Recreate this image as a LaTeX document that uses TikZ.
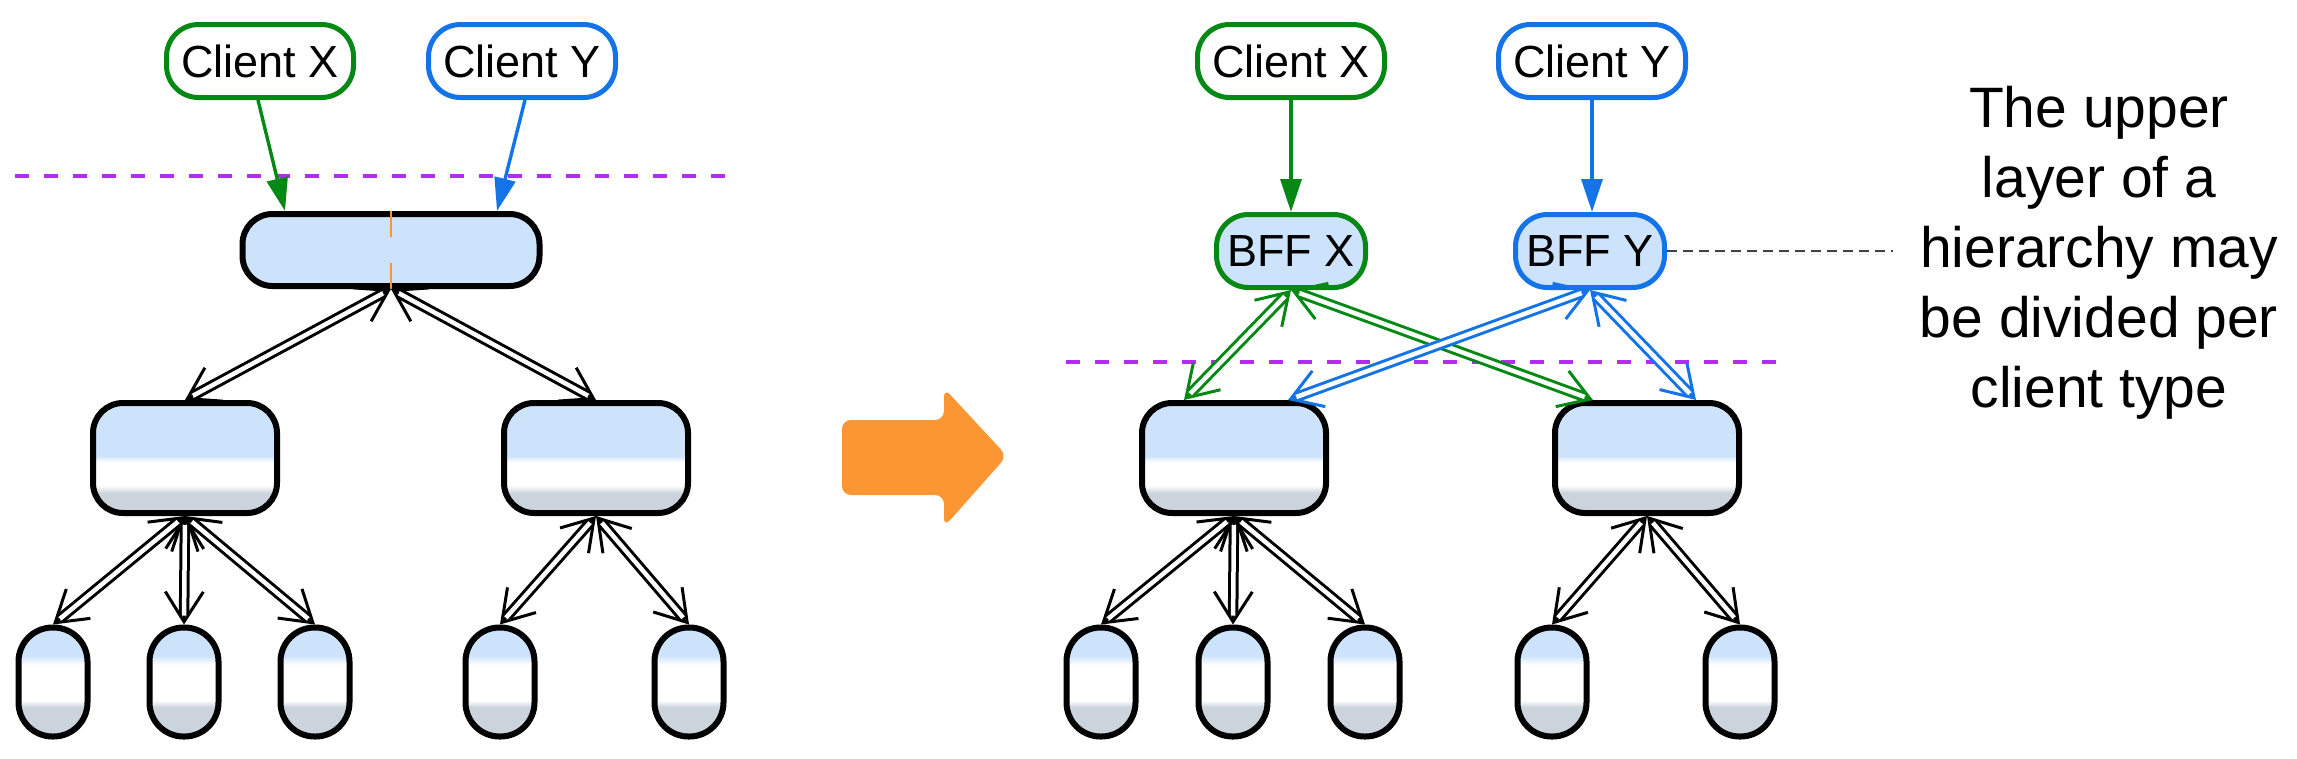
\documentclass[tikz,border=0pt]{standalone}
\usepackage{fontspec}
\setmainfont{Liberation Sans}
\usetikzlibrary{arrows.meta}
\definecolor{cgreen}{RGB}{5,137,20}
\definecolor{cblue}{RGB}{20,115,230}
\definecolor{cpurple}{RGB}{178,45,240}
\definecolor{corange}{RGB}{251,150,50}
\definecolor{lblue}{RGB}{205,227,252}
\definecolor{sgray}{RGB}{203,211,220}
\definecolor{dgray}{RGB}{60,66,78}
\pgfdeclareverticalshading{midshade}{100bp}{color(0bp)=(sgray); color(34bp)=(sgray); color(37.5bp)=(white); color(48bp)=(white); color(51bp)=(lblue); color(100bp)=(lblue)}
\pgfdeclareverticalshading{leafshade}{100bp}{color(0bp)=(sgray); color(38.5bp)=(sgray); color(41.5bp)=(white); color(58bp)=(white); color(62bp)=(lblue); color(100bp)=(lblue)}
\tikzset{
  lbl/.style={font=\fontsize{45}{54}\selectfont, text=black, inner sep=0pt},
  client/.style={lbl, draw, line width=5pt, rounded corners=32pt, fill=white, minimum width=187pt, minimum height=73pt},
  bff/.style={lbl, draw, line width=5pt, rounded corners=32pt, fill=lblue, minimum width=149pt, minimum height=73pt},
  topbox/.style={draw, line width=6pt, rounded corners=30pt, fill=lblue, minimum width=297pt, minimum height=72pt, inner sep=0pt},
  midbox/.style={draw, line width=6pt, rounded corners=30pt, shading=midshade, minimum width=184pt, minimum height=110pt, inner sep=0pt},
  leafbox/.style={draw, line width=6pt, rounded corners=34pt, shading=leafshade, minimum width=69pt, minimum height=109pt, inner sep=0pt},
  feed/.style={line width=3.4pt, -{Triangle[length=33pt,width=21pt]}},
  barbs/.style={line width=3pt, {Straight Barb[length=30pt,width=38pt]}-{Straight Barb[length=30pt,width=38pt]}},
  dbl/.style={line width=3pt, double=white, double distance=4.5pt, shorten <=9pt, shorten >=9pt},
  layer/.style={cpurple, line width=3.6pt, dash pattern=on 14pt off 15pt},
}
\newcommand\darrow[3]{\draw[barbs,#1] (#2) -- (#3); \draw[dbl,#1] (#2) -- (#3);}
\begin{document}
\begin{tikzpicture}[x=1pt,y=-1pt]
\useasboundingbox (0,0) rectangle (2297,758);
% ---------- left ----------
\draw[layer] (15,176) -- (728,176);
\node[client, draw=cgreen] (lcx) at (260,61) {Client X};
\node[client, draw=cblue] (lcy) at (522,61) {Client Y};
\node[topbox] (ltop) at (391,250) {};
\draw[corange, line width=2.5pt, dash pattern=on 26pt off 26pt] (ltop.north) -- (ltop.south);
\node[midbox] (lm1) at (185,458) {};
\node[midbox] (lm2) at (596,458) {};
\foreach \n/\x in {l1/53, l2/184, l3/315, l4/500, l5/689}
  \node[leafbox] (\n) at (\x,682) {};
\draw[feed, cgreen] ([xshift=-2pt]lcx.south) -- ([xshift=-106pt]ltop.north);
\draw[feed, cblue] ([xshift=3pt]lcy.south) -- ([xshift=106pt]ltop.north);
\darrow{black}{ltop.south}{lm1.north}
\darrow{black}{ltop.south}{lm2.north}
\darrow{black}{lm1.south}{l1.north}
\darrow{black}{lm1.south}{l2.north}
\darrow{black}{lm1.south}{l3.north}
\darrow{black}{lm2.south}{l4.north}
\darrow{black}{lm2.south}{l5.north}
% ---------- transition arrow ----------
\fill[corange, rounded corners=9pt] (842,457) -- (842,420) -- (944,420) -- (944,388) -- (1007,456) -- (944,527) -- (944,495) -- (842,495) -- cycle;
% ---------- right ----------
\draw[layer] (1066,362) -- (1780,362);
\node[client, draw=cgreen] (rcx) at (1291,61) {Client X};
\node[client, draw=cblue] (rcy) at (1592,61) {Client Y};
\node[bff, draw=cgreen] (bx) at (1291,251) {BFF X};
\node[bff, draw=cblue] (by) at (1590,251) {BFF Y};
\node[midbox] (rm1) at (1234,458) {};
\node[midbox] (rm2) at (1647,458) {};
\foreach \n/\x in {r1/1101, r2/1233, r3/1365, r4/1552, r5/1740}
  \node[leafbox] (\n) at (\x,682) {};
\draw[feed, cgreen] (rcx.south) -- (bx.north);
\draw[feed, cblue] (rcy.south) -- (rcy.south |- by.north);
\darrow{cgreen}{bx.south}{[xshift=-50pt]rm1.north}
\darrow{cgreen}{bx.south}{[xshift=-54pt]rm2.north}
\darrow{cblue}{by.south}{[xshift=54pt]rm1.north}
\darrow{cblue}{by.south}{[xshift=49pt]rm2.north}
\darrow{black}{rm1.south}{r1.north}
\darrow{black}{rm1.south}{r2.north}
\darrow{black}{rm1.south}{r3.north}
\darrow{black}{rm2.south}{r4.north}
\darrow{black}{rm2.south}{r5.north}
% ---------- note ----------
\node[align=center, font=\fontsize{57}{70}\selectfont, inner sep=0pt] (note) at (2099,253) {The upper\\layer of a\\hierarchy may\\be divided per\\client type};
\coordinate (noteend) at (1893,251);
\draw[dgray, line width=2.8pt, dash pattern=on 10pt off 6pt] (by.east) -- (noteend);
\end{tikzpicture}
\end{document}
